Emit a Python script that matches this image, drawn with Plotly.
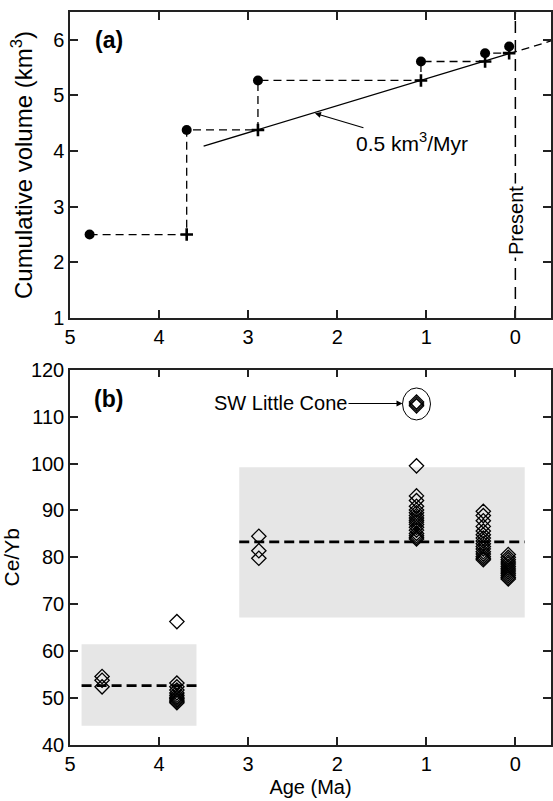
import plotly.graph_objects as go

# ---------------- data: panel (a) ----------------
vol_age = [4.78, 3.69, 2.89, 1.06, 0.34, 0.07]          # eruption ages (Ma)
cum_vol = [2.50, 4.38, 5.27, 5.61, 5.76, 5.88]          # cumulative volume (km3)
rate_age = [3.50, 0.07]                                  # fitted rate line (solid)
rate_vol = [4.09, 5.75]
rate_ext_age = [0.07, -0.40]                             # extension (dashed)
rate_ext_vol = [5.75, 5.98]
present_age = 0.0
rate_label = "0.5 km<sup>3</sup>/Myr"

# ---------------- data: panel (b) ----------------
ce_groups = {
    4.64: [54.6, 53.8, 52.4],
    3.80: [66.3, 53.2, 52.4, 51.7, 51.1, 50.6, 50.2, 49.9, 49.6, 49.3, 49.0],
    2.88: [84.5, 81.4, 79.8],
    1.11: [99.5, 93.1, 92.1, 90.9, 90.1, 89.5, 88.9, 88.4, 87.9, 87.5, 87.0,
           86.4, 85.8, 85.1, 84.6, 84.2, 83.9],
    0.36: [89.8, 88.9, 87.8, 86.6, 85.6, 84.8, 84.1, 83.5, 82.9, 82.3, 81.8,
           81.2, 80.7, 80.2, 79.8, 79.5],
    0.08: [80.6, 80.0, 79.5, 79.0, 78.6, 78.1, 77.7, 77.3, 76.9, 76.5, 76.1,
           75.7, 75.4],
}
sw_age = 1.11
sw_ce = [113.1, 112.7, 112.3]
box_ages = [[4.87, 3.58], [3.10, -0.105]]
box_ce = [[44.1, 61.5], [67.2, 99.2]]
box_mean = [52.65, 83.3]

FONT = "Liberation Sans, Arial, Helvetica, sans-serif"
AX = "#222222"

fig = go.Figure()

# step path for panel (a)
step_x, step_y, cross_x, cross_y = [], [], [], []
for i in range(len(vol_age)):
    step_x.append(vol_age[i]); step_y.append(cum_vol[i])
    if i + 1 < len(vol_age):
        step_x.append(vol_age[i + 1]); step_y.append(cum_vol[i])
        cross_x.append(vol_age[i + 1]); cross_y.append(cum_vol[i])

fig.add_trace(go.Scatter(x=step_x, y=step_y, mode="lines",
                         line=dict(color="black", width=1.3, dash="8px,5px"),
                         xaxis="x", yaxis="y", showlegend=False, hoverinfo="skip"))
fig.add_trace(go.Scatter(x=rate_age, y=rate_vol, mode="lines",
                         line=dict(color="black", width=1.3),
                         xaxis="x", yaxis="y", showlegend=False))
fig.add_trace(go.Scatter(x=rate_ext_age, y=rate_ext_vol, mode="lines",
                         line=dict(color="black", width=1.3, dash="8px,5px"),
                         xaxis="x", yaxis="y", showlegend=False))
fig.add_trace(go.Scatter(x=[present_age, present_age], y=[1, 6.5], mode="lines",
                         line=dict(color="black", width=1.5, dash="12px,7px"),
                         xaxis="x", yaxis="y", showlegend=False))
fig.add_trace(go.Scatter(x=vol_age, y=cum_vol, mode="markers",
                         marker=dict(symbol="circle", size=10, color="black"),
                         xaxis="x", yaxis="y", showlegend=False))
fig.add_trace(go.Scatter(x=cross_x, y=cross_y, mode="markers",
                         marker=dict(symbol="cross-thin", size=9, color="black",
                                     line=dict(color="black", width=2.6)),
                         xaxis="x", yaxis="y", showlegend=False))

# panel (b) boxes and means
for (a0, a1), (c0, c1), m in zip(box_ages, box_ce, box_mean):
    fig.add_shape(type="rect", xref="x2", yref="y2", x0=a0, x1=a1, y0=c0, y1=c1,
                  fillcolor="#e6e6e6", line=dict(width=0), layer="below")
    fig.add_trace(go.Scatter(x=[a0, a1], y=[m, m], mode="lines",
                             line=dict(color="black", width=2.6, dash="10px,5px"),
                             xaxis="x2", yaxis="y2", showlegend=False))

ce_x, ce_y = [], []
for age, vals in ce_groups.items():
    ce_x += [age] * len(vals)
    ce_y += vals
ce_x += [sw_age] * len(sw_ce)
ce_y += sw_ce
fig.add_trace(go.Scatter(x=ce_x, y=ce_y, mode="markers",
                         marker=dict(symbol="diamond-open", size=11, color="black",
                                     line=dict(color="black", width=1.3)),
                         xaxis="x2", yaxis="y2", showlegend=False))

# circle around SW Little Cone
fig.add_shape(type="circle", xref="x2", yref="y2", xsizemode="pixel", ysizemode="pixel",
              xanchor=sw_age, yanchor=sum(sw_ce) / len(sw_ce),
              x0=-14, x1=14, y0=-16, y1=16, line=dict(color="black", width=1))

ann = [
    dict(text="<b>(a)</b>", x=4.56, y=6.0, xref="x", yref="y", showarrow=False,
         font=dict(size=23, family=FONT, color="black")),
    dict(text="<b>(b)</b>", x=4.57, y=113.8, xref="x2", yref="y2", showarrow=False,
         font=dict(size=23, family=FONT, color="black")),
    dict(text=rate_label, x=2.25, y=4.68, xref="x", yref="y", showarrow=True,
         ax=97, ay=29, arrowhead=2, arrowsize=1, arrowwidth=1.2, arrowcolor="black",
         font=dict(size=21, family=FONT, color="black")),
    dict(text="Present", x=present_age, y=2.75, xref="x", yref="y", showarrow=False,
         textangle=-90, bgcolor="white", borderpad=2,
         font=dict(size=20, family=FONT, color="black")),
    dict(text="SW Little Cone", x=1.267, y=112.8, xref="x2", yref="y2", showarrow=True,
         ax=-122, ay=0, arrowhead=2, arrowsize=1, arrowwidth=1.2, arrowcolor="black",
         font=dict(size=20, family=FONT, color="black")),
]

axis_common = dict(showline=True, linecolor=AX, linewidth=1.5, mirror="allticks",
                   ticks="inside", ticklen=8, tickwidth=1.5, tickcolor=AX,
                   showgrid=False, zeroline=False,
                   tickfont=dict(size=20, family=FONT, color="black"))

fig.update_layout(
    width=553, height=801,
    margin=dict(l=70, r=0, t=12, b=56),
    plot_bgcolor="white", paper_bgcolor="white",
    font=dict(family=FONT, size=20, color="black"),
    annotations=ann,
    xaxis=dict(domain=[0, 1], range=[5, -0.40], dtick=1, anchor="y", **axis_common),
    yaxis=dict(domain=[0.5825, 1.0], range=[1, 6.5], dtick=1, anchor="x",
               title=dict(text="Cumulative volume (km<sup>3</sup>)", standoff=14,
                          font=dict(size=24, family=FONT)), **axis_common),
    xaxis2=dict(domain=[0, 1], range=[5, -0.40], dtick=1, anchor="y2",
                title=dict(text="Age (Ma)", standoff=6, font=dict(size=20, family=FONT)),
                **axis_common),
    yaxis2=dict(domain=[0, 0.512], range=[40, 120], dtick=10, anchor="x2",
                title=dict(text="Ce/Yb", standoff=6, font=dict(size=21, family=FONT)),
                **axis_common),
)

fig.write_html("out.html")
